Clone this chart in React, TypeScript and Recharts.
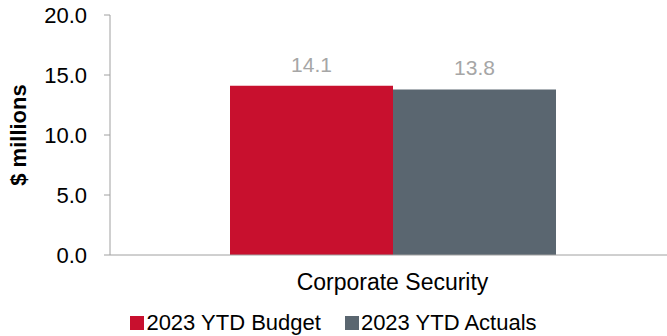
import { BarChart, Bar, XAxis, YAxis, Legend, LabelList } from 'recharts';

const categories = ['Corporate Security'];
const budget = [14.1];
const actuals = [13.8];
const yTicks = [0, 5, 10, 15, 20];

const seriesNames = ['2023 YTD Budget', '2023 YTD Actuals'];
const seriesColors = ['#C8102E', '#5A6670'];

const data = categories.map((name, i) => ({
  name,
  budget: budget[i],
  actuals: actuals[i],
}));

const font = 'Arial, "Liberation Sans", sans-serif';

const renderLegend = () => {
  return (
    <div style={{ display: 'flex', justifyContent: 'center', fontFamily: font, fontSize: 22, color: '#000', paddingRight: 8 }}>
      {seriesNames.map((n, i) => (
        <span key={n} style={{ display: 'flex', alignItems: 'center', marginRight: i === 0 ? 24 : 0 }}>
          <span style={{ width: 14, height: 14, background: seriesColors[i], marginRight: 2, display: 'inline-block' }} />
          {n}
        </span>
      ))}
    </div>
  );
};

function App() {
  return (
    <div style={{ position: 'absolute', left: 0, top: 0, width: 667, height: 336, overflow: 'hidden' }}>
      <BarChart
        width={675}
        height={336}
        data={data}
        margin={{ top: 15, right: 0, left: 0, bottom: 0 }}
        barCategoryGap={120}
        barGap={0}
      >
        <XAxis
          dataKey="name"
          tickLine={false}
          tickSize={0}
          tickMargin={19}
          height={55}
          stroke="#A0A0A0"
          tick={{ fill: '#000', fontSize: 23, fontFamily: font }}
        />
        <YAxis
          width={110}
          domain={[0, 20]}
          ticks={yTicks}
          tickFormatter={(v: number) => v.toFixed(1)}
          tickSize={6}
          tickMargin={17}
          stroke="#A0A0A0"
          tick={{ fill: '#000', fontSize: 22, fontFamily: font }}
          label={{
            value: '$ millions',
            angle: -90,
            position: 'insideLeft',
            offset: 18,
            style: { textAnchor: 'middle', fontWeight: 'bold', fontSize: 22, fill: '#000', fontFamily: font },
          }}
        />
        <Legend verticalAlign="bottom" height={26} wrapperStyle={{ height: 26 }} content={renderLegend} />
        <Bar dataKey="budget" name={seriesNames[0]} fill={seriesColors[0]} isAnimationActive={false}>
          <LabelList dataKey="budget" position="top" offset={14} fill="#A6A6A6" fontSize={21} fontFamily={font} />
        </Bar>
        <Bar dataKey="actuals" name={seriesNames[1]} fill={seriesColors[1]} isAnimationActive={false}>
          <LabelList dataKey="actuals" position="top" offset={14} fill="#A6A6A6" fontSize={21} fontFamily={font} />
        </Bar>
      </BarChart>
    </div>
  );
}

export default App;
